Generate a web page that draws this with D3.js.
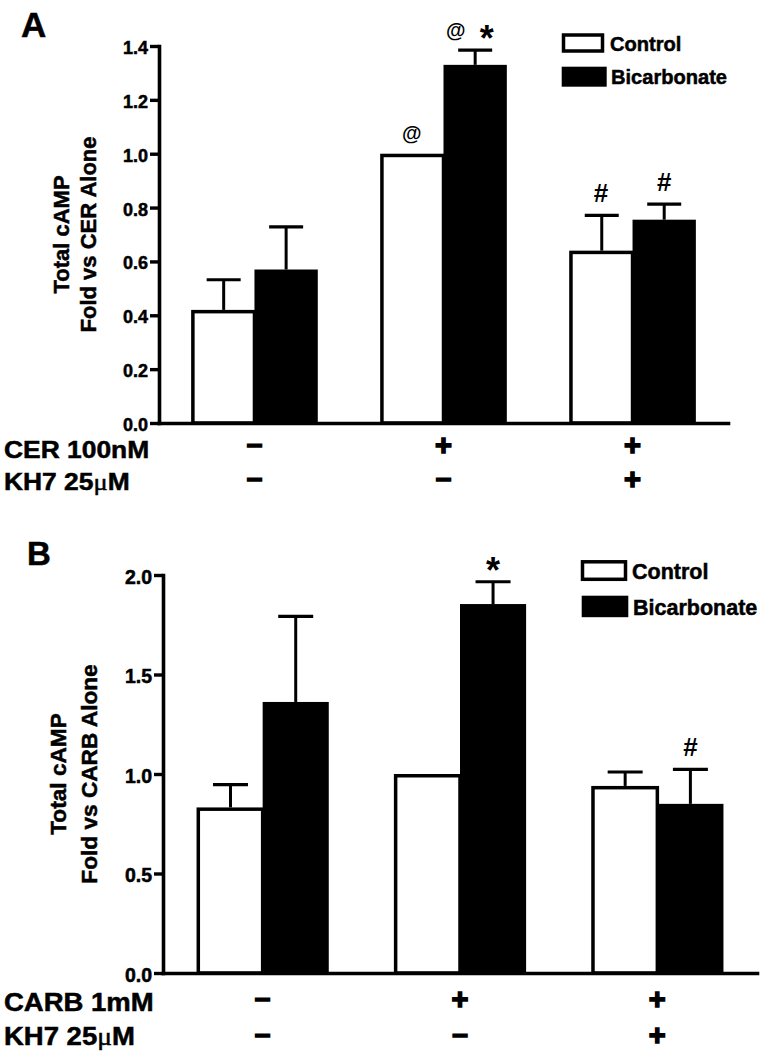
<!DOCTYPE html>
<html><head><meta charset="utf-8">
<script src="https://cdn.jsdelivr.net/npm/d3@7"></script>
<style>
body{margin:0;background:#fff}
svg{display:block}
text{font-family:"Liberation Sans",Arial,sans-serif;font-weight:bold;fill:#000}
.heavy{stroke:#000;stroke-width:0.5px}
</style>
</head><body>
<script>
// ---------- data ----------
const groups = ["g1", "g2", "g3"];
const seriesNames = ["Control", "Bicarbonate"];

const cerControl     = [0.42, 1.00, 0.64];
const cerControlErr  = [0.112, 0, 0.131];
const cerBicarb      = [0.57, 1.33, 0.755];
const cerBicarbErr   = [0.158, 0.055, 0.058];

const carbControl    = [0.832, 1.00, 0.94];
const carbControlErr = [0.115, 0, 0.07];
const carbBicarb     = [1.362, 1.854, 0.85];
const carbBicarbErr  = [0.43, 0.112, 0.173];

const ticksA = [0, 0.2, 0.4, 0.6, 0.8, 1.0, 1.2, 1.4];
const ticksB = [0, 0.5, 1.0, 1.5, 2.0];

const yTitleA = ["Total cAMP", "Fold vs CER Alone"];
const yTitleB = ["Total cAMP", "Fold vs CARB Alone"];

const rowLabelsA = ["CER 100nM", "KH7 25\u03bcM"];
const rowLabelsB = ["CARB 1mM", "KH7 25\u03bcM"];
const rowSigns = [["\u2013", "+", "+"], ["\u2013", "\u2013", "+"]];

const annotA = [
  {group: 1, series: 0, marks: ["@"]},
  {group: 1, series: 1, marks: ["@", "*"]},
  {group: 2, series: 0, marks: ["#"]},
  {group: 2, series: 1, marks: ["#"]}
];
const annotB = [
  {group: 1, series: 1, marks: ["*"]},
  {group: 2, series: 1, marks: ["#"]}
];

// ---------- drawing ----------
const W = 761, H = 1055;
const svg = d3.select("body").append("svg").attr("width", W).attr("height", H);

function drawPanel(cfg) {
  const g = svg.append("g");
  const y = d3.scaleLinear().domain([0, cfg.yMax]).range([cfg.bottom, cfg.top]);
  const xg = d3.scaleBand().domain(groups).range([cfg.left, cfg.right])
    .paddingInner(0.33).paddingOuter(0.17);
  const xs = d3.scaleBand().domain(seriesNames).range([0, xg.bandwidth()]);
  const bw = xs.bandwidth();
  const sw = 3.5;

  const vals = [cfg.control, cfg.bicarb];
  const errs = [cfg.controlErr, cfg.bicarbErr];
  groups.forEach((gr, i) => {
    const xb = xg(gr) + xs("Bicarbonate");
    g.append("rect").attr("x", xb).attr("y", y(vals[1][i]))
      .attr("width", bw).attr("height", y(0) - y(vals[1][i])).attr("fill", "#000");
    const xc = xg(gr) + xs("Control");
    g.append("rect").attr("x", xc + sw / 2).attr("y", y(vals[0][i]) + sw / 2)
      .attr("width", bw - sw / 2).attr("height", y(0) - y(vals[0][i]) - sw / 2)
      .attr("fill", "#fff").attr("stroke", "#000").attr("stroke-width", sw);
  });
  groups.forEach((gr, i) => {
    seriesNames.forEach((s, k) => {
      const e = errs[k][i];
      if (!e) return;
      const cx = xg(gr) + xs(s) + bw / 2 + (k === 0 ? sw / 4 : 0);
      const y0 = y(vals[k][i]), y1 = y(vals[k][i] + e);
      g.append("line").attr("x1", cx).attr("x2", cx).attr("y1", y0).attr("y2", y1)
        .attr("stroke", "#000").attr("stroke-width", 3);
      g.append("line").attr("x1", cx - cfg.capW / 2).attr("x2", cx + cfg.capW / 2)
        .attr("y1", y1).attr("y2", y1).attr("stroke", "#000").attr("stroke-width", 3.2);
    });
  });

  const ya = g.append("g").attr("transform", `translate(${cfg.left},0)`)
    .call(d3.axisLeft(y).tickValues(cfg.ticks).tickFormat(d3.format(".1f"))
      .tickSize(9).tickSizeOuter(0).tickPadding(2));
  ya.select(".domain").attr("stroke-width", 3.6).attr("stroke-linecap", "square");
  ya.selectAll(".tick line").attr("stroke-width", 3.4);
  ya.selectAll(".tick text").attr("font-size", cfg.tickFs).attr("dy", "0.42em")
    .attr("font-family", "Liberation Sans, Arial, sans-serif").attr("font-weight", "bold")
    .attr("class", "heavy");

  const xa = g.append("g").attr("transform", `translate(0,${cfg.bottom})`)
    .call(d3.axisBottom(d3.scaleLinear().domain([0, 1]).range([cfg.left, cfg.right]))
      .tickValues([]).tickSizeOuter(0));
  xa.select(".domain").attr("stroke-width", 3.6).attr("stroke-linecap", "square");

  cfg.yTitle.forEach((t, j) => {
    g.append("text").attr("class", "heavy").attr("text-anchor", "middle").attr("font-size", cfg.titleFs)
      .attr("transform", `translate(${cfg.titleX[j]},${(cfg.top + cfg.bottom) / 2}) rotate(-90) scale(${cfg.titleScale},1)`)
      .text(t);
  });

  g.append("text").attr("class", "heavy").attr("x", cfg.letterX).attr("y", cfg.letterY)
    .attr("font-size", cfg.letterFs).text(cfg.letter);

  g.append("rect").attr("x", cfg.leg.cx).attr("y", cfg.leg.cy).attr("width", cfg.leg.cw).attr("height", cfg.leg.ch)
    .attr("fill", "#fff").attr("stroke", "#000").attr("stroke-width", 3.5);
  g.append("rect").attr("x", cfg.leg.bx).attr("y", cfg.leg.by).attr("width", cfg.leg.bw).attr("height", cfg.leg.bh)
    .attr("fill", "#000");
  seriesNames.forEach((s, k) => {
    g.append("text").attr("class", "heavy").attr("font-size", cfg.leg.fs)
      .attr("transform", `translate(${cfg.leg.tx[k]},${cfg.leg.ty[k]}) scale(${cfg.leg.ts},1)`)
      .text(s);
  });

  cfg.annot.forEach(a => {
    const s = seriesNames[a.series];
    const cx = xg(groups[a.group]) + xs(s) + bw / 2;
    const top = y(cfg[a.series === 0 ? "control" : "bicarb"][a.group] +
                  cfg[a.series === 0 ? "controlErr" : "bicarbErr"][a.group]);
    const offs = a.marks.length === 2 ? [-19.5, 11.5] : [0];
    a.marks.forEach((m, j) => {
      const t = g.append("text").attr("text-anchor", "middle").attr("x", cx + offs[j]).text(m);
      if (m === "@") t.attr("font-size", 20).attr("font-weight", "normal").attr("y", top - 13.5);
      else if (m === "#") t.attr("font-size", 26).attr("y", top - 13);
      else t.attr("font-size", 36).attr("y", top + 1);
    });
  });

  cfg.rowLabels.forEach((lab, r) => {
    const t = g.append("text").attr("class", "heavy").attr("font-size", cfg.rowFs)
      .attr("transform", `translate(${cfg.rowX},${cfg.rowY[r]}) scale(1.1,1)`);
    const parts = lab.split("\u03bc");
    t.append("tspan").text(parts[0]);
    if (parts.length > 1) {
      t.append("tspan").attr("font-family", "Liberation Serif, serif").attr("font-weight", "normal").text("\u03bc");
      t.append("tspan").text(parts[1]);
    }
    rowSigns[r].forEach((sg, i) => {
      const cx = xg(groups[i]) + xg.bandwidth() / 2;
      const st = g.append("text").attr("text-anchor", "middle").attr("x", cx).text(sg);
      if (sg === "+") st.attr("font-size", 29).attr("y", cfg.signY[r] + 0.35 * 29)
        .attr("stroke", "#000").attr("stroke-width", 1.5);
      else st.attr("font-size", 28).attr("y", cfg.signY[r] + 0.27 * 28)
        .attr("stroke", "#000").attr("stroke-width", 1.6);
    });
  });
}

drawPanel({
  letter: "A", letterX: 21, letterY: 37, letterFs: 35,
  left: 159, right: 728, top: 46, bottom: 423, yMax: 1.4, ticks: ticksA, tickFs: 18,
  control: cerControl, controlErr: cerControlErr, bicarb: cerBicarb, bicarbErr: cerBicarbErr,
  capW: 34,
  yTitle: yTitleA, titleFs: 22, titleScale: 1.0, titleX: [69, 96],
  leg: {cx: 563.5, cy: 35, cw: 39, ch: 16, bx: 561.7, by: 66.7, bw: 45, bh: 20,
        fs: 20.5, ts: 0.98, tx: [610, 611], ty: [50.7, 84.3]},
  annot: annotA,
  rowLabels: rowLabelsA, rowFs: 24, rowX: 4, rowY: [458, 490], signY: [445, 479]
});

drawPanel({
  letter: "B", letterX: 27, letterY: 565, letterFs: 33,
  left: 163, right: 757, top: 575, bottom: 973, yMax: 2.0, ticks: ticksB, tickFs: 19.5,
  control: carbControl, controlErr: carbControlErr, bicarb: carbBicarb, bicarbErr: carbBicarbErr,
  capW: 35,
  yTitle: yTitleB, titleFs: 22, titleScale: 1.03, titleX: [66, 97],
  leg: {cx: 582.5, cy: 561.8, cw: 43, ch: 17.5, bx: 581.7, by: 595.7, bw: 46.6, bh: 21.5,
        fs: 21.5, ts: 1.0, tx: [632, 633], ty: [579, 614.7]},
  annot: annotB,
  rowLabels: rowLabelsB, rowFs: 25, rowX: 4, rowY: [1011, 1045], signY: [999, 1035]
});
</script>
</body></html>
